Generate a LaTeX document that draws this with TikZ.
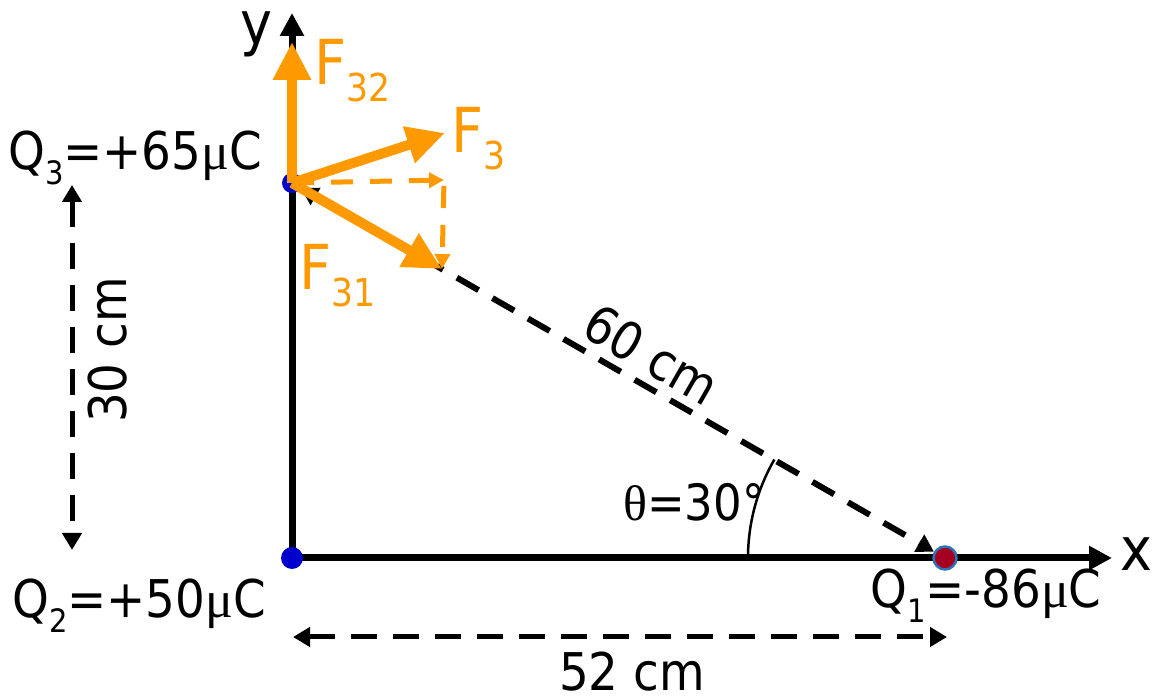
\documentclass[tikz,border=0pt]{standalone}
\usepackage{fontspec}
\setmainfont{DejaVu Sans Condensed}
\newfontfamily\greekfont{Liberation Serif}
\usepackage{graphicx}
\usetikzlibrary{arrows.meta,positioning,calc,backgrounds}
\definecolor{forceorange}{RGB}{255,153,0}
\definecolor{chargeblue}{RGB}{0,0,204}
\definecolor{chargered}{RGB}{165,0,33}
\definecolor{rimblue}{RGB}{46,117,182}
\newcommand{\lowsub}[1]{\raisebox{-0.27em}{\scalebox{0.62}{#1}}}
\newcommand{\mug}{{\greekfont μ}}

\begin{document}
\begin{tikzpicture}[
  x=1pt, y=1pt,
  charge/.style={circle, inner sep=0pt, minimum size=22pt},
  axis/.style={line width=7pt, -{Triangle[length=23pt,width=23pt]}},
  force/.style={line width=10pt, draw=forceorange, -{Triangle[length=38pt,width=36pt]}},
  comp/.style={line width=5pt, draw=forceorange, dash pattern=on 22pt off 17pt, -{Triangle[length=15pt,width=15pt]}},
  measure/.style={line width=5pt, dash pattern=on 26pt off 16pt, {Triangle[length=17pt,width=19pt]}-{Triangle[length=17pt,width=19pt]}},
  lbl/.style={font=\fontsize{52}{58}\selectfont, inner sep=0pt},
  flbl/.style={font=\fontsize{62}{66}\selectfont, text=forceorange, inner sep=0pt, anchor=base west}
]
  \useasboundingbox (0,0) rectangle (1157,700);

  % charges
  \node[charge, fill=chargeblue] (q2) at (292,142) {};
  \node[charge, fill=chargeblue, minimum size=20pt] (q3) at (292,517) {};
  \node[charge, fill=chargered, draw=rimblue, line width=2.5pt, minimum size=23pt] (q1) at (945,142) {};

  % axes
  \coordinate (xend) at (1112,142);
  \coordinate (yend) at (292,687);
  \begin{scope}[on background layer]
    \draw[axis] (q2.center) -- (xend);
    \draw[axis] (q2.center) -- (yend);
  \end{scope}
  \node[font=\fontsize{60}{60}\selectfont, inner sep=0pt, anchor=base west] (xlbl) at (1120,129) {x};
  \node[font=\fontsize{60}{60}\selectfont, inner sep=0pt, anchor=base west] (ylbl) at (240,655) {y};

  % Q3 -- Q1
  \draw[measure, line width=6pt, dash pattern=on 25pt off 16pt] (q3) -- (q1)
    node[lbl, pos=0.53, sloped, above=8pt] (d60) {60 cm};
  \draw[line width=2.5pt] ([xshift=-197pt]q1.center) arc[start angle=180, end angle=150, radius=197pt];
  \node[font=\fontsize{50}{50}\selectfont, inner sep=0pt] (ang) at (694,198) {{\greekfont θ}=30°};

  % forces on Q3
  \coordinate (f32) at (292,658);
  \coordinate (f3) at (445,567);
  \coordinate (f31) at (442,431);
  \coordinate (fx) at (444,520);
  \draw[comp] (q3.center) -- (fx);
  \draw[comp, shorten <=6pt] (fx) -- (f31);
  \draw[force] (q3.center) -- (f31);
  \draw[force] (q3.center) -- (f3);
  \draw[force] (q3.center) -- (f32);
  \node[flbl] (f32lbl) at (314,615) {F\lowsub{32}};
  \node[flbl] (f3lbl) at (451,547) {F\lowsub{3}};
  \node[flbl] (f31lbl) at (299,410) {F\lowsub{31}};

  % charge labels
  \node[lbl, anchor=base west] (q3lbl) at (8,530) {Q\lowsub{3}=+65\mug C};
  \node[lbl, anchor=base west] (q2lbl) at (12,82) {Q\lowsub{2}=+50\mug C};
  \node[lbl, anchor=base west] (q1lbl) at (870,92) {Q\lowsub{1}=-86\mug C};

  % distances
  \coordinate (m30top) at (72,515);
  \coordinate (m30bot) at (72,150);
  \draw[measure] (m30top) -- (m30bot);
  \node[lbl, rotate=90] (d30) at (108,350) {30 cm};
  \coordinate (m52l) at (293,63);
  \coordinate (m52r) at (947,63);
  \draw[measure] (m52l) -- (m52r);
  \node[lbl] (d52) at (632,28) {52 cm};
\end{tikzpicture}
\end{document}
